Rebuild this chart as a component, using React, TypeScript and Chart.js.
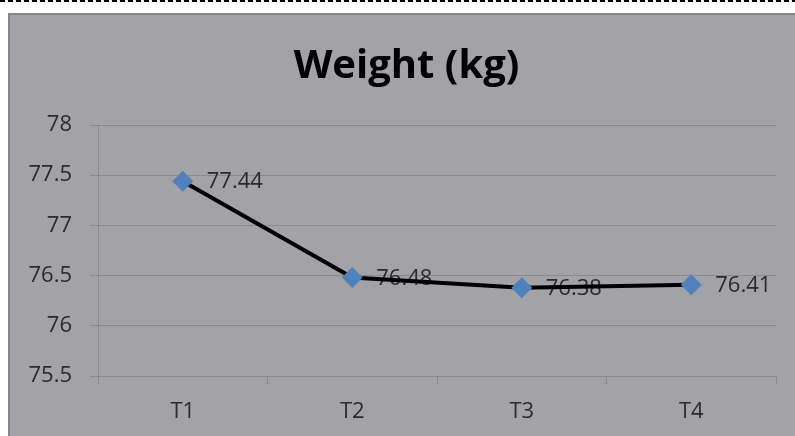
import React, { useEffect, useRef } from "react";
import { Chart, registerables } from "chart.js";

Chart.register(...registerables);

const categories = ["T1", "T2", "T3", "T4"];
const weights = [77.44, 76.48, 76.38, 76.41];
const yMin = 75.5;
const yMax = 78;
const yStep = 0.5;
const titleText = "Weight (kg)";

const FONT = "'Open Sans', 'DejaVu Sans', sans-serif";

const labelPlugin = {
  id: "pointLabels",
  beforeDatasetsDraw(chart: any) {
    const ctx = chart.ctx;
    const meta = chart.getDatasetMeta(0);
    ctx.save();
    ctx.font = `22px ${FONT}`;
    ctx.fillStyle = "#2b2b2b";
    ctx.textAlign = "left";
    ctx.textBaseline = "middle";
    meta.data.forEach((pt: any, i: number) => {
      ctx.fillText(weights[i].toFixed(2), pt.x + 24, pt.y + 1);
    });
    ctx.restore();
  },
};

const titlePlugin = {
  id: "customTitle",
  afterDraw(chart: any) {
    const ctx = chart.ctx;
    ctx.save();
    ctx.font = `bold 40px ${FONT}`;
    ctx.fillStyle = "#000000";
    ctx.textAlign = "center";
    ctx.textBaseline = "alphabetic";
    ctx.fillText(titleText, chart.width / 2 + 4, 63);
    ctx.restore();
  },
};

export default function App() {
  const ref = useRef<HTMLCanvasElement>(null);
  useEffect(() => {
    if (!ref.current) return;
    const chart = new Chart(ref.current, {
      type: "line",
      data: {
        labels: categories,
        datasets: [
          {
            data: weights,
            borderColor: "#000000",
            borderWidth: 4,
            pointStyle: "rectRot",
            pointRadius: 10.5,
            pointBackgroundColor: "#4f81bd",
            pointBorderColor: "#4f81bd",
            pointBorderWidth: 0,
            tension: 0,
          },
        ],
      },
      plugins: [labelPlugin, titlePlugin],
      options: {
        responsive: false,
        animation: false,
        events: [],
        layout: { padding: { left: 0, right: 19, top: 110, bottom: 0 } },
        plugins: {
          legend: { display: false },
          tooltip: { enabled: false },
          title: { display: false },
        },
        scales: {
          x: {
            offset: true,
            grid: {
              display: true,
              offset: true,
              drawOnChartArea: false,
              drawTicks: true,
              tickLength: 8,
              color: "#8a8a8c",
            },
            border: { display: false },
            ticks: {
              color: "#2b2b2b",
              font: { family: FONT, size: 22 },
              padding: 15,
            },
            afterFit(scale: any) {
              scale.height = 60;
            },
          },
          y: {
            min: yMin,
            max: yMax,
            grid: {
              color: "#8a8a8c",
              tickLength: 8,
            },
            border: { display: true, color: "#8a8a8c" },
            ticks: {
              stepSize: yStep,
              color: "#2b2b2b",
              font: { family: FONT, size: 22 },
              padding: 18,
              callback: (v: any) => String(Number(v)),
            },
            afterFit(scale: any) {
              scale.width = 88;
            },
          },
        },
      },
    });
    return () => chart.destroy();
  }, []);

  return (
    <div
      style={{
        position: "fixed",
        left: 0,
        top: 0,
        width: 795,
        height: 436,
        background: "#ffffff",
        overflow: "hidden",
      }}
    >
      <div
        style={{
          position: "absolute",
          left: 0,
          top: 0,
          width: 795,
          height: 2,
          background:
            "repeating-linear-gradient(90deg, #000000 0px, #000000 5px, #ffffff 5px, #ffffff 8px)",
        }}
      />
      <div
        style={{
          position: "absolute",
          left: 8,
          top: 13,
          width: 787,
          height: 423,
          background: "#a3a2a7",
          boxSizing: "border-box",
          borderLeft: "2px solid #86858a",
          borderTop: "2px solid #86858a",
        }}
      >
        <canvas
          ref={ref}
          width={785}
          height={421}
          style={{ display: "block", width: 785, height: 421 }}
        />
      </div>
    </div>
  );
}
